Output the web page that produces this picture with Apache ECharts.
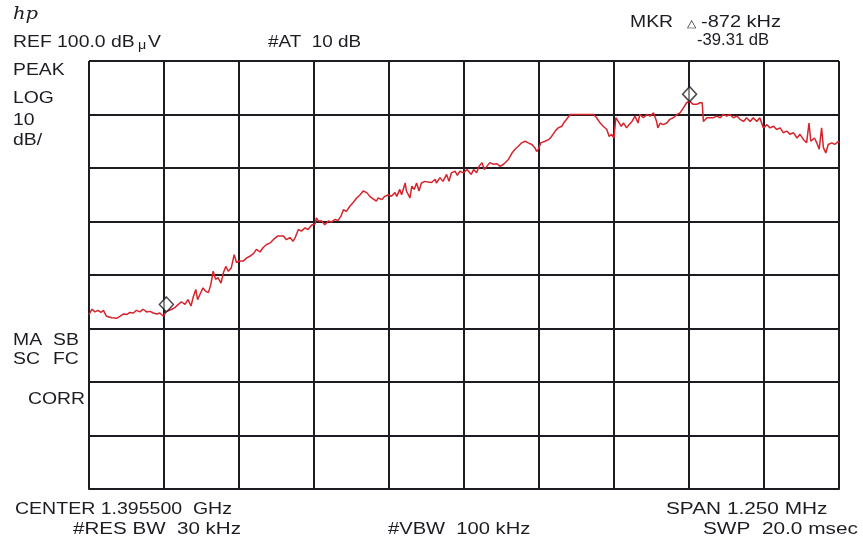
<!DOCTYPE html>
<html>
<head>
<meta charset="utf-8">
<title>Spectrum analyzer trace</title>
<script src="https://cdn.jsdelivr.net/npm/echarts@6/dist/echarts.min.js"></script>
<style>
  html, body { margin: 0; padding: 0; background: #ffffff; }
  #chart { width: 863px; height: 540px; }
</style>
</head>
<body>
<div id="chart"></div>
<script>
// Frequency offset from the 1.395500 GHz centre, in kHz
const offsetKHz = [
  -625, -620, -615, -610, -605, -601, -596, -587, -579, -573, -568, -562, -557, -551, -546, -540,
  -535, -529, -523, -518, -512, -507, -501, -496, -493, -487, -482, -476, -471, -465, -460, -455,
  -451, -447, -444, -440, -435, -431, -426, -422, -418, -414, -410, -405, -401, -397, -393, -388,
  -383, -379, -375, -368, -362, -357, -351, -346, -340, -335, -329, -323, -318, -310, -307, -301,
  -296, -290, -285, -281, -276, -271, -265, -260, -254, -248, -246, -243, -237, -232, -226, -221,
  -215, -210, -205, -201, -196, -190, -185, -179, -173, -168, -162, -157, -151, -146, -143, -137,
  -132, -126, -121, -115, -112, -107, -104, -98, -96, -90, -87, -83, -79, -75, -71, -65,
  -60, -54, -48, -46, -40, -35, -29, -25, -21, -15, -11, -7, -1, 5, 12, 16,
  21, 25, 30, 34, 38, 43, 49, 55, 60, 66, 68, 74, 80, 85, 91, 96,
  102, 107, 113, 118, 121, 124, 128, 135, 141, 146, 152, 157, 163, 166, 171, 177,
  180, 185, 193, 202, 210, 216, 221, 227, 232, 238, 242, 246, 250, 253, 257, 262,
  266, 271, 275, 280, 285, 290, 293, 299, 305, 310, 316, 321, 323, 327, 332, 338,
  343, 349, 355, 360, 366, 371, 376, 382, 388, 393, 397, 399, 405, 410, 416, 421,
  427, 432, 438, 443, 449, 455, 460, 466, 471, 477, 482, 488, 493, 499, 505, 510,
  516, 521, 527, 532, 538, 543, 549, 555, 560, 566, 571, 575, 578, 584, 588, 592,
  596, 599, 603, 607, 613, 618, 624, 625
];

// Measured level, dBµV
const levelDbuV = [
  52.6, 53.6, 53.1, 53.4, 53.0, 53.4, 52.3, 52.0, 51.9, 52.3, 52.7, 52.6, 53.0, 52.9, 53.4, 53.1,
  53.6, 53.1, 53.2, 52.9, 52.7, 52.9, 52.3, 53.19, 53.4, 53.6, 53.9, 54.5, 55.0, 54.5, 55.4, 54.2,
  56.0, 57.3, 55.4, 56.4, 57.6, 57.0, 56.7, 58.2, 60.7, 59.2, 59.5, 58.5, 60.4, 61.6, 60.7, 61.3,
  63.8, 62.3, 62.6, 62.6, 63.2, 63.5, 64.0, 64.8, 64.3, 65.1, 65.7, 66.0, 66.6, 67.3, 67.6, 67.3,
  66.6, 67.0, 66.3, 67.1, 68.5, 68.2, 68.8, 68.5, 69.3, 69.6, 70.7, 70.1, 70.1, 69.4, 70.1, 69.9,
  70.4, 70.2, 71.0, 72.2, 71.9, 72.9, 73.5, 74.4, 75.0, 75.7, 75.4, 74.7, 74.2, 73.8, 74.4, 74.1,
  74.7, 75.0, 74.7, 75.4, 74.7, 76.0, 75.0, 77.2, 75.7, 74.4, 76.6, 76.0, 77.2, 75.7, 77.2, 77.5,
  77.4, 77.3, 77.9, 77.2, 78.2, 77.5, 78.8, 77.5, 79.1, 79.4, 78.6, 79.4, 79.1, 79.7, 78.8, 79.7,
  79.1, 80.3, 81.0, 79.7, 80.3, 81.0, 80.7, 80.8, 80.3, 80.7, 81.0, 81.6, 82.8, 83.5, 84.1, 84.7,
  85.0, 84.7, 84.4, 83.8, 83.1, 83.5, 84.7, 85.0, 85.3, 85.9, 86.9, 87.5, 87.8, 88.4, 89.1, 90.0,
  90.0, 90.0, 90.0, 90.0, 90.0, 90.0, 89.4, 88.4, 87.8, 87.2, 85.9, 86.3, 85.6, 89.4, 88.7, 87.8,
  88.4, 87.5, 88.1, 88.7, 89.7, 88.4, 90.0, 89.4, 90.0, 89.7, 90.3, 88.7, 87.5, 88.4, 88.1, 88.4,
  89.1, 89.4, 90.0, 90.3, 91.3, 92.2, 92.5, 91.9, 91.9, 92.2, 92.2, 88.7, 89.4, 89.4, 89.4, 89.7,
  89.4, 90.0, 89.7, 90.0, 89.4, 89.7, 89.1, 88.7, 89.4, 88.7, 89.4, 88.7, 89.4, 87.5, 88.1, 87.5,
  87.8, 87.2, 87.5, 86.6, 86.9, 86.3, 86.6, 85.6, 86.3, 85.3, 84.7, 88.4, 85.0, 85.6, 84.7, 83.5,
  87.5, 83.8, 82.8, 84.4, 84.7, 84.4, 85.0, 84.7
];

// Marker positions: active marker first, reference marker second
const markerKHz = [376, -496];
const markerLevel = [92.5, 53.19];

// Screen settings
const refLevel = 100;
const dbPerDiv = 10;
const verticalDivs = 8;
const spanKHz = 1250;
const horizontalDivs = 10;
const centerGHz = 1.3955;

const deltaKHz = markerKHz[1] - markerKHz[0];
const deltaDb = (markerLevel[1] - markerLevel[0]).toFixed(2);

const trace = offsetKHz.map((f, i) => [f, levelDbuV[i]]);
const markers = markerKHz.map((f, i) => [f, markerLevel[i]]);

const INK = '#1c1c22';
const FONT = '"Liberation Sans", Arial, sans-serif';
const SX = 1.21;

function label(text, x, y, opts) {
  const o = opts || {};
  return {
    type: 'text',
    x: x,
    y: y,
    scaleX: o.scaleX || SX,
    silent: true,
    style: {
      text: text,
      fill: o.fill || INK,
      font: (o.style || 'normal') + ' ' + (o.size || 16) + 'px ' + (o.family || FONT),
      textAlign: o.align || 'left',
      textVerticalAlign: 'middle'
    }
  };
}

const chart = echarts.init(document.getElementById('chart'), null, { renderer: 'canvas' });

chart.setOption({
  animation: false,
  backgroundColor: '#ffffff',
  grid: { left: 89, right: 24, top: 61, height: 428, containLabel: false },
  xAxis: {
    type: 'value',
    min: -spanKHz / 2,
    max: spanKHz / 2,
    interval: spanKHz / horizontalDivs,
    axisLine: { show: true, onZero: false, lineStyle: { color: INK, width: 2 } },
    axisTick: { show: false },
    axisLabel: { show: false },
    splitLine: { show: true, lineStyle: { color: INK, width: 2 } }
  },
  yAxis: {
    type: 'value',
    min: refLevel - dbPerDiv * verticalDivs,
    max: refLevel,
    interval: dbPerDiv,
    axisLine: { show: true, lineStyle: { color: INK, width: 2 } },
    axisTick: { show: false },
    axisLabel: { show: false },
    splitLine: { show: true, lineStyle: { color: INK, width: 2 } }
  },
  series: [
    {
      name: 'trace',
      type: 'line',
      data: trace,
      showSymbol: false,
      symbol: 'none',
      lineStyle: { color: '#d7232b', width: 1.5 },
      z: 3
    },
    {
      name: 'markers',
      type: 'scatter',
      data: markers,
      symbol: 'diamond',
      symbolSize: [14, 15],
      symbolOffset: [0, -7],
      itemStyle: { color: 'rgba(255,255,255,0.6)', borderColor: INK, borderWidth: 1.5 },
      z: 4
    }
  ],
  graphic: [
    label('hp', 13, 15, { style: 'italic', size: 17, family: '"DejaVu Serif", serif', scaleX: 1.15 }),
    label('REF ' + refLevel.toFixed(1) + ' dB', 13, 42.5),
    label('\u03bc', 138, 45.5, { size: 13, scaleX: 1.1 }),
    label('V', 148, 42.5),
    label('#AT  10 dB', 268, 42.5, { scaleX: 1.18 }),
    label('MKR', 630, 22.7),
    label('\u25b3', 687, 24, { size: 11, scaleX: 1.1 }),
    label(deltaKHz + ' kHz', 701, 22.7, { scaleX: 1.25 }),
    label(deltaDb + ' dB', 697, 41, { scaleX: 1.04 }),
    label('PEAK', 13, 71),
    label('LOG', 13, 98.5),
    label(String(dbPerDiv), 13, 121),
    label('dB/', 13, 141),
    label('MA', 13, 341),
    label('SB', 53, 341),
    label('SC', 13, 359.3),
    label('FC', 53, 359.3),
    label('CORR', 28, 399.3),
    label('CENTER ' + centerGHz.toFixed(6) + '  GHz', 15, 509.3, { scaleX: 1.22 }),
    label('#RES BW  30 kHz', 73, 529.3, { scaleX: 1.285 }),
    label('#VBW  100 kHz', 388, 529.3, { scaleX: 1.26 }),
    label('SPAN ' + (spanKHz / 1000).toFixed(3) + ' MHz', 666, 509.3, { scaleX: 1.3 }),
    label('SWP  20.0 msec', 703, 529.3, { scaleX: 1.3 })
  ]
});
</script>
</body>
</html>
